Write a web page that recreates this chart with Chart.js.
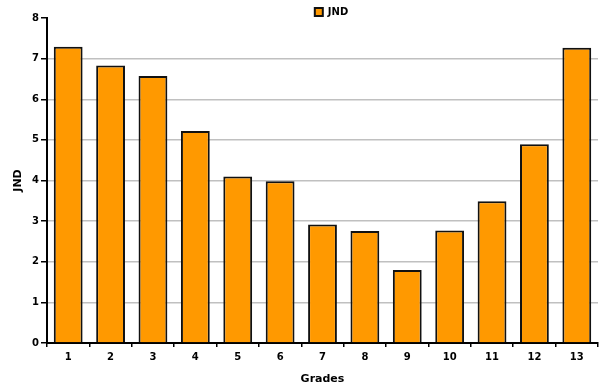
<!DOCTYPE html>
<html>
<head>
<meta charset="utf-8">
<script src="https://cdn.jsdelivr.net/npm/chart.js@4"></script>
<style>
  html, body { margin: 0; padding: 0; background: #fff; }
</style>
</head>
<body>
<canvas id="myChart" width="600" height="388"></canvas>
<script>
const grades = ['1', '2', '3', '4', '5', '6', '7', '8', '9', '10', '11', '12', '13']
const jnd = [7.29, 6.83, 6.57, 5.22, 4.10, 3.98, 2.92, 2.76, 1.80, 2.77, 3.49, 4.89, 7.27]
const yMin = 0
const yMax = 8
const yStep = 1

const font = { family: "'DejaVu Sans', Verdana, sans-serif", weight: 'bold' }

// legend sits a little right of the plot centre and lower in the original
const nudgeLegend = {
    id: 'nudgeLegend',
    afterLayout(chart) {
        chart.legend.left += 9
        chart.legend.right += 9
        chart.legend.top += 7
        chart.legend.bottom += 7
    }
}

const ctx = document.getElementById('myChart').getContext('2d')

const myChart = new Chart(ctx, {
    type: 'bar',
    data: {
        labels: grades,
        datasets: [{
            label: 'JND',
            data: jnd,
            backgroundColor: '#ff9900',
            borderColor: '#111111',
            borderWidth: 2,
            barPercentage: 0.68,
            categoryPercentage: 1
        }]
    },
    options: {
        responsive: false,
        animation: false,
        devicePixelRatio: 1,
        layout: { padding: { left: 0, right: 2, top: 0, bottom: 0 } },
        plugins: {
            legend: {
                position: 'top',
                fullSize: false,
                maxHeight: 18,
                labels: {
                    boxWidth: 8,
                    boxHeight: 8,
                    padding: 0,
                    color: '#000',
                    font: { ...font, size: 10 }
                }
            },
            tooltip: { enabled: false }
        },
        scales: {
            x: {
                grid: {
                    drawOnChartArea: false,
                    tickLength: 4,
                    tickColor: '#000',
                    lineWidth: 1.5
                },
                border: { color: '#000', width: 2 },
                ticks: { color: '#000', padding: 4, font: { ...font, size: 10 } },
                title: {
                    display: true,
                    text: 'Grades',
                    color: '#000',
                    font: { ...font, size: 11 },
                    padding: { top: 0, bottom: 2 }
                },
                afterFit(scale) { scale.height = 45 }
            },
            y: {
                min: yMin,
                max: yMax,
                grid: {
                    color: c => (c.tick && c.tick.value === yMax) ? 'rgba(0,0,0,0)' : '#c0c0c0',
                    tickColor: '#000',
                    tickLength: 6,
                    lineWidth: 1.5
                },
                border: { color: '#000', width: 2 },
                ticks: { stepSize: yStep, color: '#000', padding: 2, font: { ...font, size: 10 } },
                title: {
                    display: true,
                    text: 'JND',
                    color: '#000',
                    font: { ...font, size: 11 },
                    padding: { top: 12, bottom: 0 }
                },
                afterFit(scale) { scale.width = 47 }
            }
        }
    },
    plugins: [nudgeLegend]
})
</script>
</body>
</html>
